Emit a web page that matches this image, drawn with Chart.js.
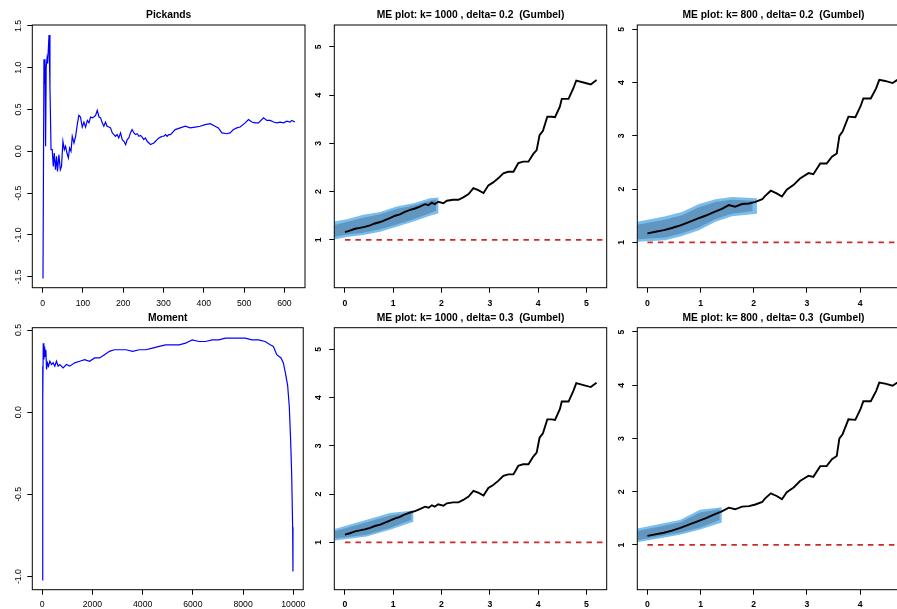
<!DOCTYPE html>
<html>
<head>
<meta charset="utf-8">
<title>Pickands, Moment and ME plots</title>
<script src="https://cdn.jsdelivr.net/npm/chart.js@4.4.1/dist/chart.umd.min.js"></script>
<style>
  html, body { margin: 0; padding: 0; width: 897px; height: 609px; overflow: hidden; background: #ffffff; }
  canvas { position: absolute; }
</style>
</head>
<body>
<canvas id="chart_pickands"></canvas>
<canvas id="chart_me1000_02"></canvas>
<canvas id="chart_me800_02"></canvas>
<canvas id="chart_moment"></canvas>
<canvas id="chart_me1000_03"></canvas>
<canvas id="chart_me800_03"></canvas>
<script>
/************************************************************
    DATA
*************************************************************/

// Pickands estimator against k
var pickX = [1, 3.4, 5, 6, 7.5, 9, 11, 12.5, 16, 18.3,
             21, 24, 26.5, 29, 32, 34.7, 37, 40.5, 44, 47,
             50.5, 54, 57, 60.5, 64, 67, 70.5, 73.6, 77.8, 82,
             86, 90, 94, 98.5, 102.6, 106.7, 111, 115, 119, 123,
             127, 131.5, 135.6, 140, 144, 148, 152, 156, 160, 164.5,
             168.6, 173, 177, 181, 185, 189, 193.4, 197.6, 201.8, 206,
             210, 214, 218, 222, 226.6, 230.6, 234.8, 239, 243, 247,
             251, 255, 259.6, 263.8, 268, 272, 276, 280, 284, 288.6,
             292.6, 296.8, 301, 305, 309, 313, 317.4, 329, 341.5, 354,
             366, 378.6, 391, 403.5, 416, 428, 436, 444.8, 457, 465,
             473.6, 482, 490, 502.6, 510.8, 519, 527, 535.6, 548, 556.4,
             564.6, 572.8, 581, 589.4, 597.6, 606, 614, 618, 626];
var pickY = [-1.52, 1.10, 0.81, 1.10, 0.06, 1.01, 1.11, 1.05, 1.39, 0.77,
             0.02, 0.02, -0.18, -0.02, -0.22, -0.06, -0.24, -0.04, -0.22, -0.18,
             0.12, 0.02, 0.06, -0.02, -0.08, 0.04, 0.00, 0.18, 0.10, 0.18,
             0.32, 0.43, 0.41, 0.29, 0.35, 0.29, 0.37, 0.34, 0.41, 0.40,
             0.41, 0.43, 0.49, 0.41, 0.40, 0.34, 0.30, 0.35, 0.30, 0.29,
             0.28, 0.22, 0.20, 0.18, 0.20, 0.16, 0.22, 0.14, 0.12, 0.08,
             0.14, 0.16, 0.22, 0.26, 0.22, 0.20, 0.21, 0.18, 0.19, 0.17,
             0.14, 0.16, 0.12, 0.10, 0.08, 0.09, 0.10, 0.12, 0.14, 0.16,
             0.17, 0.18, 0.18, 0.20, 0.18, 0.20, 0.20, 0.26, 0.28, 0.30,
             0.28, 0.29, 0.30, 0.32, 0.33, 0.30, 0.28, 0.22, 0.21, 0.22,
             0.26, 0.28, 0.29, 0.34, 0.38, 0.35, 0.34, 0.34, 0.40, 0.37,
             0.37, 0.35, 0.34, 0.35, 0.34, 0.36, 0.35, 0.37, 0.35];
var pickXTicks = [0, 100, 200, 300, 400, 500, 600];
var pickXLabels = ['0', '100', '200', '300', '400', '500', '600'];
var pickYTicks = [-1.5, -1.0, -0.5, 0.0, 0.5, 1.0, 1.5];
var pickYLabels = ['-1.5', '-1.0', '-0.5', '0.0', '0.5', '1.0', '1.5'];

// Moment estimator against k
var momX = [1, 13, 26, 40, 66, 92, 119, 145, 171, 211,
            251, 303, 369, 435, 501, 567, 633, 699, 831, 963,
            1095, 1293, 1491, 1689, 1887, 2084, 2282, 2480, 2678, 2876,
            3074, 3338, 3602, 3865, 4129, 4393, 4657, 4921, 5185, 5449,
            5712, 5844, 5976, 6240, 6504, 6768, 7032, 7296, 7559, 7823,
            8087, 8351, 8615, 8879, 9077, 9208, 9340, 9512, 9604, 9697,
            9776, 9842, 9894, 9934, 9974, 9987];
var momY = [-1.02, 0.28, 0.07, 0.42, 0.32, 0.40, 0.34, 0.38, 0.26, 0.30,
            0.28, 0.31, 0.29, 0.30, 0.28, 0.31, 0.28, 0.29, 0.27, 0.29,
            0.28, 0.30, 0.31, 0.32, 0.31, 0.33, 0.33, 0.35, 0.37, 0.38,
            0.38, 0.38, 0.37, 0.38, 0.38, 0.39, 0.40, 0.41, 0.41, 0.41,
            0.42, 0.43, 0.44, 0.43, 0.43, 0.44, 0.44, 0.45, 0.45, 0.45,
            0.45, 0.44, 0.44, 0.43, 0.41, 0.40, 0.35, 0.33, 0.30, 0.23,
            0.16, 0.03, -0.17, -0.37, -0.70, -0.97];
var momXTicks = [0, 2000, 4000, 6000, 8000, 10000];
var momXLabels = ['0', '2000', '4000', '6000', '8000', '10000'];
var momYTicks = [-1.0, -0.5, 0.0, 0.5];
var momYLabels = ['-1.0', '-0.5', '0.0', '0.5'];

// mean excess line, k = 1000
var meX1000 = [0.00, 0.10, 0.21, 0.31, 0.41, 0.52, 0.62, 0.73, 0.83, 0.93,
               1.04, 1.14, 1.24, 1.35, 1.45, 1.55, 1.66, 1.73, 1.80, 1.86,
               1.93, 2.04, 2.11, 2.24, 2.35, 2.45, 2.56, 2.66, 2.76, 2.87,
               2.97, 3.07, 3.18, 3.28, 3.38, 3.49, 3.59, 3.69, 3.80, 3.90,
               3.97, 4.03, 4.10, 4.19, 4.28, 4.35, 4.45, 4.49, 4.63, 4.73,
               4.79, 4.94, 5.09, 5.21];
var meY1000 = [1.16, 1.19, 1.23, 1.25, 1.27, 1.30, 1.34, 1.37, 1.41, 1.45,
               1.50, 1.53, 1.58, 1.62, 1.65, 1.69, 1.74, 1.72, 1.77, 1.74,
               1.79, 1.76, 1.81, 1.83, 1.83, 1.88, 1.95, 2.07, 2.03, 1.97,
               2.13, 2.19, 2.28, 2.38, 2.41, 2.41, 2.59, 2.62, 2.62, 2.78,
               2.86, 3.17, 3.26, 3.55, 3.55, 3.54, 3.76, 3.92, 3.92, 4.14,
               4.30, 4.26, 4.22, 4.31];

// mean excess line, k = 800
var meX800 = [0.00, 0.15, 0.31, 0.46, 0.62, 0.78, 0.93, 1.09, 1.25, 1.40,
              1.53, 1.65, 1.78, 1.91, 2.03, 2.16, 2.21, 2.32, 2.43, 2.53,
              2.62, 2.75, 2.87, 3.03, 3.12, 3.25, 3.37, 3.47, 3.56, 3.61,
              3.67, 3.78, 3.91, 4.01, 4.06, 4.20, 4.30, 4.36, 4.47, 4.61,
              4.70, 4.74];
var meY800 = [1.17, 1.20, 1.23, 1.27, 1.32, 1.38, 1.44, 1.50, 1.57, 1.63,
              1.70, 1.67, 1.72, 1.73, 1.76, 1.81, 1.87, 1.97, 1.92, 1.86,
              1.99, 2.08, 2.20, 2.30, 2.28, 2.48, 2.48, 2.61, 2.67, 3.00,
              3.08, 3.36, 3.35, 3.56, 3.70, 3.70, 3.89, 4.05, 4.03, 3.99,
              4.05, 4.08];

var meYTicks = [1, 2, 3, 4, 5];
var meYLabels = ['1', '2', '3', '4', '5'];
var meXTicks1000 = [0, 1, 2, 3, 4, 5];
var meXLabels1000 = ['0', '1', '2', '3', '4', '5'];
var meXTicks800 = [0, 1, 2, 3, 4];
var meXLabels800 = ['0', '1', '2', '3', '4'];

// Gumbel reference line (slope 0 at level 1)
var refY = [1, 1];
var refX1000 = [0, 5.42];
var refX800 = [0, 4.93];

// confidence bands: outer (light) and inner (dark)
var band1000d2X = [-0.22, 0.04, 0.38, 0.73, 1.07, 1.42, 1.76, 1.94];
var band1000d2Hi = [1.38, 1.43, 1.52, 1.58, 1.69, 1.76, 1.86, 1.88];
var band1000d2Lo = [1.01, 1.06, 1.10, 1.17, 1.27, 1.38, 1.50, 1.55];
var core1000d2X = [-0.22, 0.04, 0.38, 0.73, 1.07, 1.42, 1.76, 1.89];
var core1000d2Hi = [1.31, 1.37, 1.46, 1.53, 1.64, 1.71, 1.81, 1.84];
var core1000d2Lo = [1.06, 1.11, 1.15, 1.22, 1.32, 1.43, 1.55, 1.61];

var band800d2X = [-0.19, 0.34, 0.65, 0.97, 1.28, 1.59, 2.06];
var band800d2Hi = [1.39, 1.49, 1.57, 1.72, 1.81, 1.85, 1.83];
var band800d2Lo = [1.01, 1.04, 1.12, 1.23, 1.39, 1.49, 1.54];
var core800d2X = [-0.19, 0.34, 0.65, 0.97, 1.28, 1.59, 1.98];
var core800d2Hi = [1.33, 1.43, 1.51, 1.66, 1.76, 1.80, 1.78];
var core800d2Lo = [1.06, 1.09, 1.17, 1.28, 1.44, 1.54, 1.59];

var band1000d3X = [-0.21, 0.45, 0.93, 1.42];
var band1000d3Hi = [1.28, 1.47, 1.61, 1.66];
var band1000d3Lo = [1.04, 1.12, 1.26, 1.43];
var core1000d3X = [-0.21, 0.45, 0.93, 1.38];
var core1000d3Hi = [1.23, 1.42, 1.56, 1.62];
var core1000d3Lo = [1.08, 1.16, 1.30, 1.47];

var band800d3X = [-0.19, 0.61, 0.99, 1.40];
var band800d3Hi = [1.31, 1.47, 1.66, 1.71];
var band800d3Lo = [1.05, 1.19, 1.29, 1.42];
var core800d3X = [-0.19, 0.61, 0.99, 1.36];
var core800d3Hi = [1.26, 1.42, 1.61, 1.67];
var core800d3Lo = [1.09, 1.23, 1.33, 1.47];

/************************************************************
    Layout of the six panels (page pixels)
*************************************************************/
var panes = {
  pickands: {left: 0,   top: 0,   w: 310, h: 309, box: {l: 32.3,  t: 25,    r: 305,   b: 287.7}, titleY: 15,  yLabX: 18.3,  xLabY: 303.3},
  me1:      {left: 302, top: 0,   w: 310, h: 309, box: {l: 334.3, t: 25,    r: 606.7, b: 287.7}, titleY: 15,  yLabX: 318.3, xLabY: 303.3},
  me2:      {left: 605, top: 0,   w: 310, h: 309, box: {l: 637.3, t: 25,    r: 909.6, b: 287.7}, titleY: 15,  yLabX: 621.7, xLabY: 303.3},
  moment:   {left: 0,   top: 303, w: 310, h: 306, box: {l: 32.3,  t: 327.7, r: 305,   b: 589.7}, titleY: 318, yLabX: 18.3,  xLabY: 604.3},
  me3:      {left: 302, top: 303, w: 310, h: 306, box: {l: 334.3, t: 327.7, r: 606.7, b: 589.7}, titleY: 318, yLabX: 318.3, xLabY: 604.3},
  me4:      {left: 605, top: 303, w: 310, h: 306, box: {l: 637.3, t: 327.7, r: 909.6, b: 589.7}, titleY: 318, yLabX: 621.7, xLabY: 604.3}
};

var FONT = "'Liberation Sans', Arial, Helvetica, sans-serif";
var TICK_SIZE = 8.7;
var TITLE_SIZE = 10.3;
var TICK_LEN = 5;

Chart.defaults.font.family = FONT;
Chart.defaults.color = '#000000';

/************************************************************
    Helpers
*************************************************************/
function toPoints(xs, ys) {
  return xs.map(function (x, i) { return {x: x, y: ys[i]}; });
}

function widestLabel(labels, bold) {
  var ctx = document.createElement('canvas').getContext('2d');
  ctx.font = (bold ? 'bold ' : '') + TICK_SIZE + 'px ' + FONT;
  return Math.max.apply(null, labels.map(function (l) { return ctx.measureText(l).width; }));
}

// R style box round the plot region
var boxPlugin = {
  id: 'plotBox',
  afterDraw: function (chart) {
    var a = chart.chartArea, ctx = chart.ctx;
    ctx.save();
    ctx.strokeStyle = '#000000';
    ctx.lineWidth = 1;
    ctx.strokeRect(a.left, a.top, a.right - a.left, a.bottom - a.top);
    ctx.restore();
  }
};

function makeChart(id, pane, title, datasets, xAxis, yAxis, boldTicks) {
  var canvas = document.getElementById(id);
  canvas.width = pane.w;
  canvas.height = pane.h;
  canvas.style.left = pane.left + 'px';
  canvas.style.top = pane.top + 'px';

  var tickFont = {family: FONT, size: TICK_SIZE, weight: boldTicks ? 'bold' : 'normal'};
  var titlePadTop = pane.titleY - pane.top - TITLE_SIZE * 0.6;
  var titlePadBottom = (pane.box.t - pane.top) - titlePadTop - TITLE_SIZE * 1.2;
  var xPad = (pane.xLabY - pane.box.b) - TICK_LEN - TICK_SIZE * 0.6;
  var yPad = (pane.box.l - pane.yLabX) - TICK_LEN - widestLabel(yAxis.labels, boldTicks) / 2;

  var grid = {drawOnChartArea: false, drawTicks: true, tickLength: TICK_LEN, color: '#000000', lineWidth: 1};

  return new Chart(canvas, {
    type: 'line',
    data: {datasets: datasets},
    options: {
      responsive: false,
      animation: false,
      events: [],
      layout: {padding: {left: 0, top: 0, bottom: 0, right: (pane.left + pane.w) - pane.box.r}},
      plugins: {
        legend: {display: false},
        tooltip: {enabled: false},
        title: {
          display: true,
          text: title,
          fullSize: false,
          color: '#000000',
          font: {family: FONT, size: TITLE_SIZE, weight: 'bold'},
          padding: {top: titlePadTop, bottom: titlePadBottom}
        }
      },
      scales: {
        x: {
          type: 'linear',
          position: 'bottom',
          min: xAxis.min,
          max: xAxis.max,
          afterBuildTicks: function (s) { s.ticks = xAxis.ticks.map(function (v) { return {value: v}; }); },
          afterFit: function (s) { s.height = (pane.top + pane.h) - pane.box.b; },
          grid: grid,
          border: {display: false},
          ticks: {
            autoSkip: false, minRotation: 0, maxRotation: 0, padding: xPad,
            color: '#000000', font: tickFont,
            callback: function (v, i) { return xAxis.labels[i]; }
          }
        },
        y: {
          type: 'linear',
          position: 'left',
          min: yAxis.min,
          max: yAxis.max,
          afterBuildTicks: function (s) { s.ticks = yAxis.ticks.map(function (v) { return {value: v}; }); },
          afterFit: function (s) { s.width = pane.box.l - pane.left; },
          grid: grid,
          border: {display: false},
          ticks: {
            autoSkip: false, minRotation: 90, maxRotation: 90, crossAlign: 'center', padding: yPad,
            color: '#000000', font: tickFont,
            callback: function (v, i) { return yAxis.labels[i]; }
          }
        }
      }
    },
    plugins: [boxPlugin]
  });
}

function lineSet(xs, ys, color, width) {
  return {data: toPoints(xs, ys), borderColor: color, borderWidth: width, pointRadius: 0, tension: 0, fill: false};
}

// datasets are drawn last-to-first, so the black line comes first
function meSets(lineX, lineY, bandX, bandHi, bandLo, coreX, coreHi, coreLo, refX) {
  return [
    lineSet(lineX, lineY, '#000000', 1.9),
    {data: toPoints(coreX, coreHi), borderWidth: 0, pointRadius: 0, fill: '+1', backgroundColor: 'rgb(96, 150, 192)'},
    {data: toPoints(coreX, coreLo), borderWidth: 0, pointRadius: 0, fill: false},
    {data: toPoints(bandX, bandHi), borderWidth: 0, pointRadius: 0, fill: '+1', backgroundColor: 'rgb(122, 190, 237)'},
    {data: toPoints(bandX, bandLo), borderWidth: 0, pointRadius: 0, fill: false},
    {data: toPoints(refX, refY), borderColor: '#CD2A2A', borderWidth: 1.8, borderDash: [5.5, 5], pointRadius: 0, fill: false}
  ];
}

/************************************************************
    Pickands and Moment panels
*************************************************************/
makeChart('chart_pickands', panes.pickands, 'Pickands',
  [lineSet(pickX, pickY, '#0000FF', 1.2)],
  {min: -25.5, max: 651, ticks: pickXTicks, labels: pickXLabels},
  {min: -1.63, max: 1.51, ticks: pickYTicks, labels: pickYLabels}, false);

makeChart('chart_moment', panes.moment, 'Moment',
  [lineSet(momX, momY, '#0000FF', 1.2)],
  {min: -396, max: 10396, ticks: momXTicks, labels: momXLabels},
  {min: -1.08, max: 0.514, ticks: momYTicks, labels: momYLabels}, false);

/************************************************************
    ME plots
*************************************************************/
makeChart('chart_me1000_02', panes.me1, 'ME plot: k= 1000 , delta= 0.2  (Gumbel)',
  meSets(meX1000, meY1000, band1000d2X, band1000d2Hi, band1000d2Lo, core1000d2X, core1000d2Hi, core1000d2Lo, refX1000),
  {min: -0.22, max: 5.42, ticks: meXTicks1000, labels: meXLabels1000},
  {min: 0.01, max: 5.45, ticks: meYTicks, labels: meYLabels}, true);

makeChart('chart_me800_02', panes.me2, 'ME plot: k= 800 , delta= 0.2  (Gumbel)',
  meSets(meX800, meY800, band800d2X, band800d2Hi, band800d2Lo, core800d2X, core800d2Hi, core800d2Lo, refX800),
  {min: -0.19, max: 4.93, ticks: meXTicks800, labels: meXLabels800},
  {min: 0.15, max: 5.08, ticks: meYTicks, labels: meYLabels}, true);

makeChart('chart_me1000_03', panes.me3, 'ME plot: k= 1000 , delta= 0.3  (Gumbel)',
  meSets(meX1000, meY1000, band1000d3X, band1000d3Hi, band1000d3Lo, core1000d3X, core1000d3Hi, core1000d3Lo, refX1000),
  {min: -0.22, max: 5.42, ticks: meXTicks1000, labels: meXLabels1000},
  {min: 0.02, max: 5.45, ticks: meYTicks, labels: meYLabels}, true);

makeChart('chart_me800_03', panes.me4, 'ME plot: k= 800 , delta= 0.3  (Gumbel)',
  meSets(meX800, meY800, band800d3X, band800d3Hi, band800d3Lo, core800d3X, core800d3Hi, core800d3Lo, refX800),
  {min: -0.19, max: 4.93, ticks: meXTicks800, labels: meXLabels800},
  {min: 0.16, max: 5.08, ticks: meYTicks, labels: meYLabels}, true);
</script>
</body>
</html>
